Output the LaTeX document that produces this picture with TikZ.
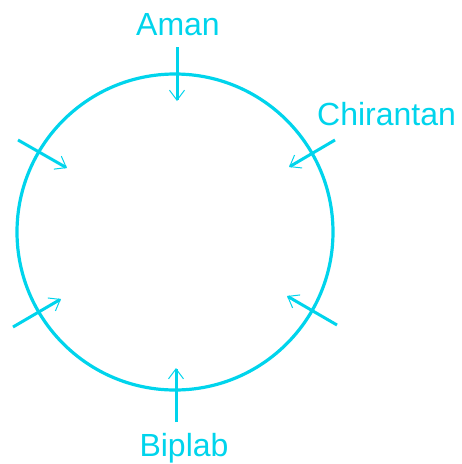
\documentclass[tikz,border=0pt]{standalone}
\usepackage{fontspec}
\setmainfont{Liberation Sans}
\usetikzlibrary{arrows.meta}
\definecolor{cy}{RGB}{0,212,236}
\begin{document}
\begin{tikzpicture}[x=1pt,y=-1pt,
  lbl/.style={text=cy,inner sep=0pt,font=\fontsize{32}{38}\selectfont},
  arr/.style={draw=cy,line width=3pt,-{Straight Barb[length=10pt,width=15pt,line width=1pt]}}]
\useasboundingbox (0,0) rectangle (462,464);
\node[draw=cy,line width=3.2pt,circle,minimum size=316pt,inner sep=0pt] (c) at (175,232) {};
\node[lbl,anchor=base] (aman) at (178,35) {Aman};
\node[lbl,anchor=base west] (chir) at (317,125) {Chirantan};
\node[lbl,anchor=base] (biplab) at (184,456) {Biplab};
\coordinate (a1) at (177,47); \coordinate (a2) at (177,101);
\coordinate (b1) at (176,422); \coordinate (b2) at (176,368);
\coordinate (c1) at (335,140); \coordinate (c2) at (289,167);
\coordinate (u1) at (18,140); \coordinate (u2) at (67,168);
\coordinate (l1) at (13,327); \coordinate (l2) at (61,299);
\coordinate (r1) at (337,325); \coordinate (r2) at (287,296);
\draw[arr] (a1) -- (a2);
\draw[arr] (b1) -- (b2);
\draw[arr] (c1) -- (c2);
\draw[arr] (u1) -- (u2);
\draw[arr] (l1) -- (l2);
\draw[arr] (r1) -- (r2);
\end{tikzpicture}
\end{document}
